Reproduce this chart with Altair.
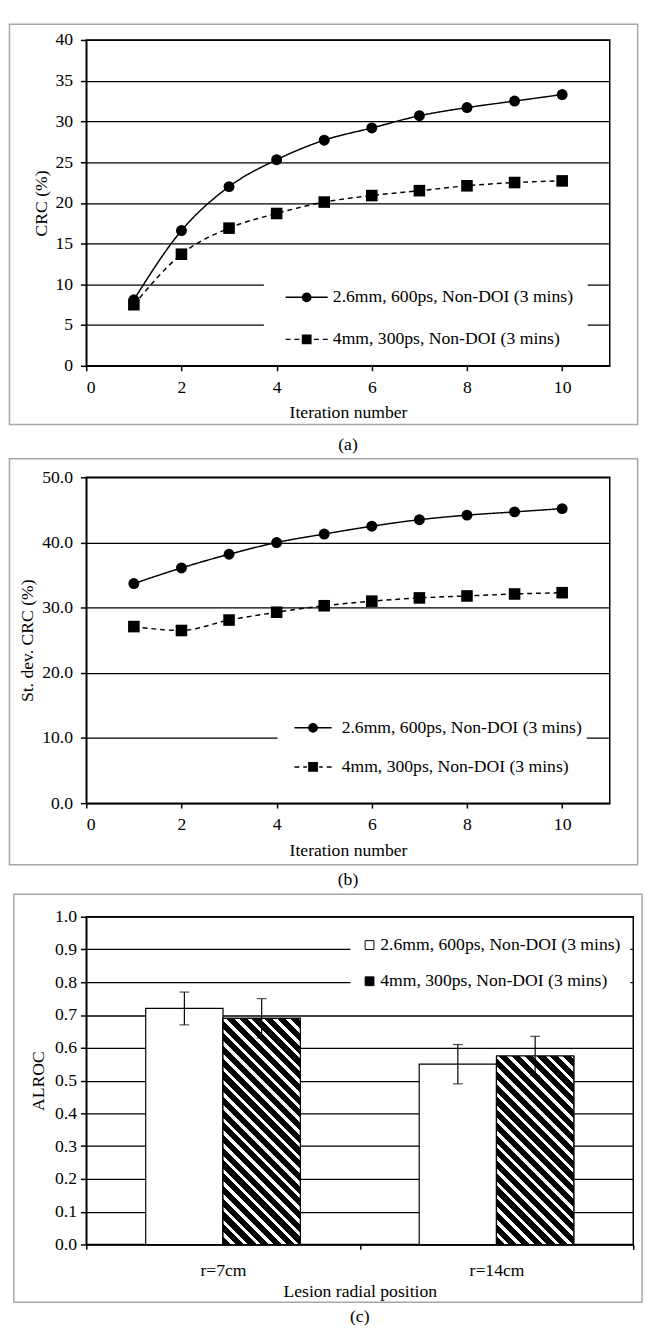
import altair as alt
import pandas as pd

FONT = "Liberation Serif"

# ---------------- data ----------------
iterations = [1, 2, 3, 4, 5, 6, 7, 8, 9, 10]
series_names = ["2.6mm, 600ps, Non-DOI (3 mins)", "4mm, 300ps, Non-DOI (3 mins)"]

crc_s1 = [8.1, 16.6, 22.0, 25.3, 27.7, 29.2, 30.7, 31.7, 32.5, 33.3]
crc_s2 = [7.5, 13.7, 16.9, 18.7, 20.1, 20.9, 21.5, 22.1, 22.5, 22.7]

sd_s1 = [33.7, 36.1, 38.2, 40.0, 41.3, 42.5, 43.5, 44.2, 44.7, 45.2]
sd_s2 = [27.1, 26.5, 28.1, 29.3, 30.3, 31.0, 31.5, 31.8, 32.1, 32.3]

positions = ["r=7cm", "r=14cm"]
alroc_s1 = [0.72, 0.55]
alroc_s2 = [0.69, 0.575]
err_lo_s1 = [0.67, 0.49]
err_hi_s1 = [0.77, 0.61]
err_lo_s2 = [0.63, 0.515]
err_hi_s2 = [0.75, 0.635]


def long_df(v1, v2):
    rows = []
    for name, vals in zip(series_names, [v1, v2]):
        for it, v in zip(iterations, vals):
            rows.append({"iteration": it, "value": v, "series": name})
    return pd.DataFrame(rows)


df_a = long_df(crc_s1, crc_s2)
df_b = long_df(sd_s1, sd_s2)

rows_c = []
for name, vals, lo, hi in zip(series_names, [alroc_s1, alroc_s2],
                              [err_lo_s1, err_lo_s2], [err_hi_s1, err_hi_s2]):
    for p, v, l, h in zip(positions, vals, lo, hi):
        rows_c.append({"position": p, "series": name, "value": v, "lo": l, "hi": h})
df_c = pd.DataFrame(rows_c)

frame_df = pd.DataFrame({"k": [0]})

# ---------------- styles ----------------
FRAME_COLOR = "#a6a6a6"
T = 0.15  # half thickness of legend line (in symbol units, 1 unit = 5 px)


def frame(x1, x2, y1, y2):
    return alt.Chart(frame_df).mark_rect(
        filled=False, fill=None, stroke=FRAME_COLOR, strokeWidth=1.5
    ).encode(x=alt.value(x1), x2=alt.value(x2), y=alt.value(y1), y2=alt.value(y2))


def seg(a, b):
    return f"M{a:.3f},{-T}H{b:.3f}V{T}H{a:.3f}Z"


def circ_path(half):
    return (seg(-half, -0.9) + seg(0.9, half) +
            "M1,0A1,1,0,1,1,-1,0A1,1,0,1,1,1,0Z")


def sq_path(half):
    d, g = 1.0, 0.8
    parts = []
    a = half
    while a > 1.25:
        b = max(a - d, 1.25)
        parts.append(seg(-a, -b))
        parts.append(seg(b, a))
        a = b - g
    return "".join(parts) + "M-1,-1H1V1H-1Z"


def line_panel(df, ytitle, ymax, ystep, yfmt, caption, cap_off, pw, ph, frame_box,
               leg_x, leg_y, leg_pad, leg_rowpad, sym_off, lab_off, half, ytitle_pad):
    x = alt.X("iteration:Q", title="Iteration number",
              scale=alt.Scale(domain=[0, 11], nice=False),
              axis=alt.Axis(values=[0, 2, 4, 6, 8, 10], grid=False, tickSize=5,
                            labelPadding=8, titlePadding=8, domainColor="black",
                            tickColor="black", domainWidth=1.5, tickWidth=1.5))
    y = alt.Y("value:Q", title=ytitle,
              scale=alt.Scale(domain=[0, ymax], nice=False),
              axis=alt.Axis(values=list(range(0, ymax + 1, ystep)), format=yfmt,
                            grid=True, gridColor="black", gridWidth=1.3,
                            tickSize=6, labelPadding=8, titlePadding=ytitle_pad,
                            domainColor="black", tickColor="black",
                            domainWidth=1.5, tickWidth=1.5))
    base = alt.Chart(df)
    lines = base.mark_line(interpolate="monotone", color="black", strokeWidth=1.5).encode(
        x=x, y=y,
        strokeDash=alt.StrokeDash("series:N", scale=alt.Scale(domain=series_names,
                                  range=[[1, 0], [5, 4]]), legend=None),
    )
    pts = base.mark_point(filled=True, color="black", opacity=1).encode(
        x=x, y=y,
        shape=alt.Shape("series:N", scale=alt.Scale(domain=series_names,
                        range=["circle", "square"]), legend=None),
        size=alt.Size("series:N", scale=alt.Scale(domain=series_names,
                      range=[125, 140]), legend=None),
    )
    leg = base.transform_filter("datum.iteration < 0").mark_point(
        filled=True, color="black", opacity=1).encode(
        x=x, y=y,
        shape=alt.Shape("series:N", scale=alt.Scale(domain=series_names,
                        range=[circ_path(half), sq_path(half)]),
                        legend=alt.Legend(
                            title=None, orient="none", legendX=leg_x, legendY=leg_y,
                            labelFont=FONT, labelFontSize=18, labelColor="black",
                            labelLimit=0, fillColor="white", padding=leg_pad,
                            rowPadding=leg_rowpad, symbolSize=100, symbolOpacity=1,
                            symbolFillColor="black", symbolStrokeColor="transparent",
                            symbolStrokeWidth=1.5, symbolOffset=sym_off,
                            labelOffset=lab_off)),
    )
    fx1, fx2, fy1, fy2 = frame_box
    ch = alt.layer(frame(fx1, fx2, fy1, fy2), lines, pts, leg).resolve_scale(
        shape="independent", size="independent"
    ).properties(
        width=pw, height=ph,
        title=alt.TitleParams(caption, orient="bottom", font=FONT, fontSize=18,
                              fontWeight="normal", color="black", offset=cap_off),
    )
    return ch


W_AB = 535
H_AB = 333

chart_a = line_panel(df_a, "CRC (%)", 40, 5, "d", "(a)", 11, W_AB, H_AB,
                     (-78.5, 563.5, -16, 393),
                     181.5, 239, 15, 25, 19.75, 17.75, 4.3, 4.5)
chart_b = line_panel(df_b, "St. dev. CRC (%)", 50, 10, ".1f", "(b)", 6, W_AB, H_AB,
                     (-78.5, 563.5, -19, 396),
                     195.5, 242, 5, 22, 22.25, 20.25, 3.8, 5)

# ---------------- panel (c) ----------------
W_C = 559
H_C = 335
BAR_W = 79
band = W_C / 2.0
po = (band / BAR_W - 2) / 2.0


def hatch_fill(v, w=BAR_W, period=13.0, black_frac=0.64):
    h = v * H_C
    s = (w + h) / (w * w + h * h)
    n = (w + h) / period
    stops = []
    k = 0
    while k < n + 1:
        a = k / n
        b = (k + black_frac) / n
        c = (k + 1) / n
        for off, col in [(a, "black"), (b, "black"), (b, "white"), (c, "white")]:
            if 0 <= off <= 1:
                stops.append({"offset": round(off, 5), "color": col})
        k += 1
    if stops[-1]["offset"] < 1:
        stops.append({"offset": 1, "color": stops[-1]["color"]})
    return {"gradient": "linear", "x1": 0, "y1": 1, "x2": round(s * w, 5),
            "y2": round(1 - s * h, 5), "stops": stops}


xc = alt.X("position:N", title="Lesion radial position", sort=positions,
           scale=alt.Scale(domain=positions, paddingInner=0, paddingOuter=0),
           axis=alt.Axis(labelAngle=0, tickBand="extent", tickSize=5, labelPadding=13,
                         titlePadding=3, domainColor="black", tickColor="black",
                         domainWidth=1.5, tickWidth=1.5))
xo = alt.XOffset("series:N", sort=series_names,
                 scale=alt.Scale(domain=series_names, paddingInner=0, paddingOuter=po))
y_axis_c = alt.Axis(values=[i / 10 for i in range(11)], format=".1f", grid=True,
                    gridColor="black", gridWidth=1.3, tickSize=6, labelPadding=4,
                    titlePadding=7, domainColor="black", tickColor="black",
                    domainWidth=1.5, tickWidth=1.5)
y_scale_c = alt.Scale(domain=[0, 1], nice=False)
yc = alt.Y("value:Q", title="ALROC", scale=y_scale_c, axis=y_axis_c)

base_c = alt.Chart(df_c)
bars = base_c.mark_bar(stroke="black", strokeWidth=1.2).encode(
    x=xc, xOffset=xo, y=yc,
    fill=alt.Fill("series:N", scale=alt.Scale(domain=series_names, range=["white", "black"]),
                  legend=alt.Legend(title=None, orient="none", legendX=270, legendY=10,
                                    labelFont=FONT, labelFontSize=18, labelColor="black",
                                    labelLimit=0, fillColor="white", padding=10,
                                    rowPadding=19, symbolType="square", symbolSize=81,
                                    symbolOpacity=1,
                                    symbolStrokeColor="black", symbolStrokeWidth=1,
                                    symbolOffset=0.5, labelOffset=2)),
)
hatch_layers = []
for p, v in zip(positions, alroc_s2):
    hatch_layers.append(
        base_c.transform_filter(
            (alt.datum.position == p) & (alt.datum.series == series_names[1])
        ).mark_bar(stroke="black", strokeWidth=1.2, fill=hatch_fill(v)).encode(
            x=xc, xOffset=xo, y=yc)
    )
err_rule = base_c.mark_rule(color="black", strokeWidth=1.2).encode(
    x=xc, xOffset=xo,
    y=alt.Y("lo:Q", title="ALROC", scale=y_scale_c, axis=y_axis_c), y2="hi:Q")
cap_hi = base_c.mark_tick(color="black", thickness=1.2, size=10).encode(
    x=xc, xOffset=xo, y=alt.Y("hi:Q", title="ALROC", scale=y_scale_c, axis=y_axis_c))
cap_lo = base_c.mark_tick(color="black", thickness=1.2, size=10).encode(
    x=xc, xOffset=xo, y=alt.Y("lo:Q", title="ALROC", scale=y_scale_c, axis=y_axis_c))

chart_c = alt.layer(frame(-74, 568, -23, 394), bars, *hatch_layers,
                    err_rule, cap_hi, cap_lo).properties(
    width=W_C, height=H_C,
    title=alt.TitleParams("(c)", orient="bottom", font=FONT, fontSize=18,
                          fontWeight="normal", color="black", offset=6),
)

chart = alt.concat(chart_a, chart_b, chart_c, columns=1, spacing=2, align="none").resolve_scale(
    fill="independent", shape="independent", size="independent", strokeDash="independent"
).resolve_legend(
    fill="independent", shape="independent", size="independent", strokeDash="independent"
).configure(
    font=FONT,
    padding=0,
    background="white",
).configure_view(
    stroke="black", strokeWidth=1.5,
).configure_axis(
    labelFont=FONT, labelFontSize=18, labelColor="black",
    titleFont=FONT, titleFontSize=18, titleFontWeight="normal", titleColor="black",
)

chart.save("out.html", embed_options={"renderer": "svg", "actions": False})
